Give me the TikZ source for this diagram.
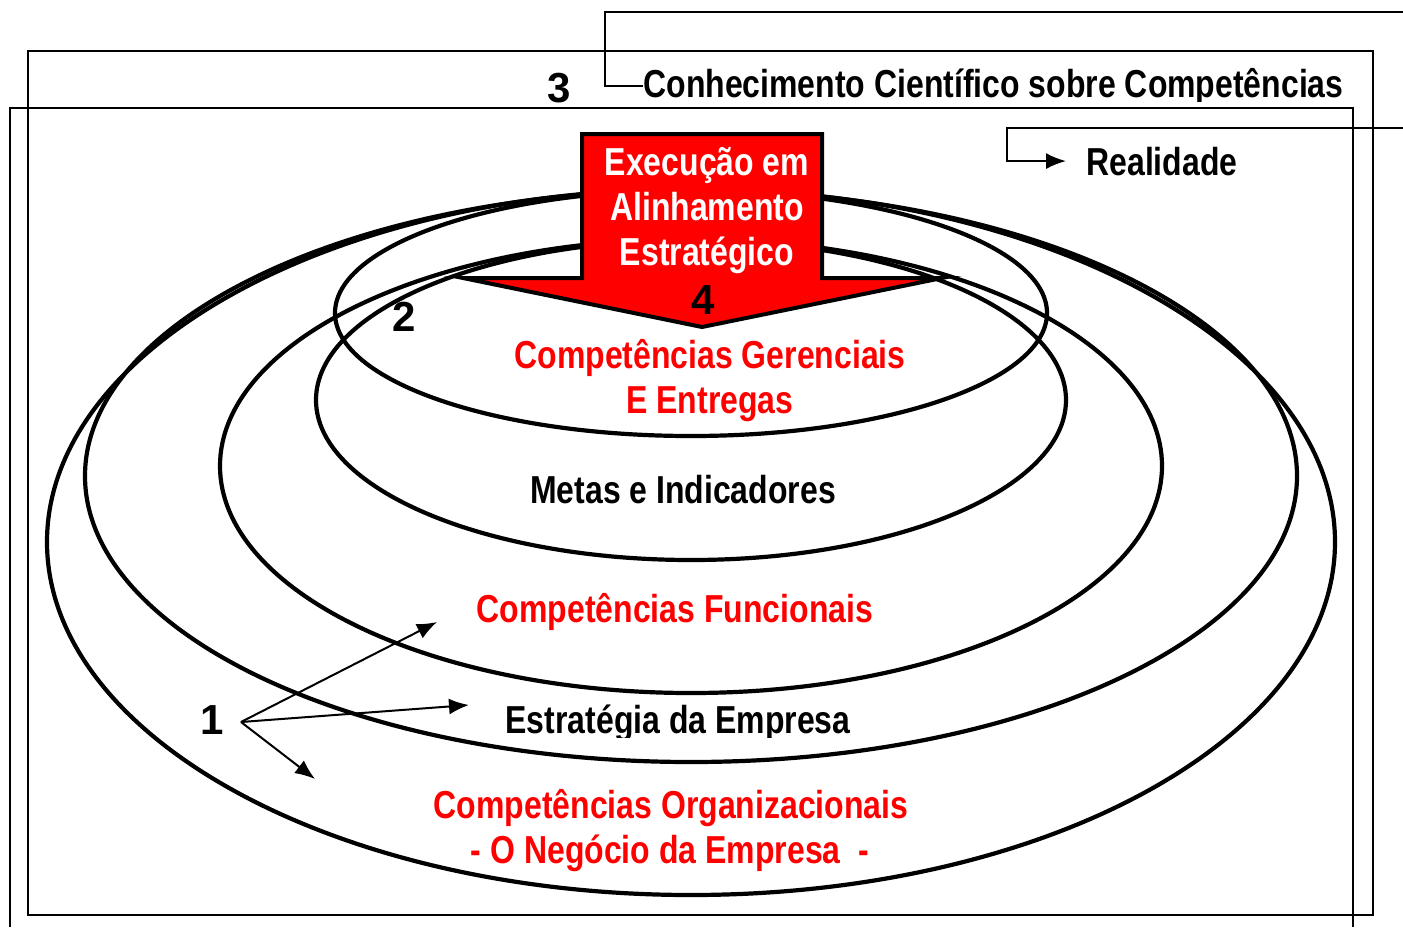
\documentclass[tikz,border=0pt]{standalone}
\usepackage{fontspec}
\setmainfont{Liberation Sans}
\newfontfamily\narrowfont[FakeStretch=0.82]{Liberation Sans}
\usepackage{tikz}
\usetikzlibrary{arrows.meta}

\tikzset{
  ring/.style={draw, line width=2.1pt},
  framebox/.style={draw, line width=1pt},
  lbl/.style={font=\narrowfont\bfseries\fontsize{19.5}{23}\selectfont, inner sep=0pt},
  num/.style={font=\bfseries\fontsize{21}{24}\selectfont, inner sep=0pt},
  pointer/.style={line width=1pt, -{Latex[length=10pt,width=8pt]}},
}

\begin{document}
\begin{tikzpicture}[x=0.5pt, y=-0.5pt]
\useasboundingbox (0,0) rectangle (1403,927);

% two frames
\draw[framebox] (28,51) rectangle (1373,915);
\draw[framebox] (10,927) -- (10,108) -- (1353,108) -- (1353,927);

% rings
\draw[ring] (691,542) ellipse (644 and 353);
\draw[ring] (691,476) ellipse (606 and 286);
\draw[ring] (691,466) ellipse (471 and 227);
\draw[ring] (691,400) ellipse (375 and 160);
\draw[ring] (691,313) ellipse (356 and 123);

% red arrow
\draw[line width=2pt, fill=red, line join=miter] (582,134) -- (822,134) -- (822,278) -- (942,278)
  -- (702,327) -- (463,278) -- (582,278) -- cycle;
\node[lbl, white, anchor=base] (exec1) at (707,175) {Execução em};
\node[lbl, white, anchor=base] (exec2) at (707,220) {Alinhamento};
\node[lbl, white, anchor=base] (exec3) at (707,265) {Estratégico};

% labels in the rings
\node[lbl, red, anchor=base] (gerenc) at (710,368) {Competências Gerenciais};
\node[lbl, red, anchor=base] (entregas) at (710,413) {E Entregas};
\node[lbl, anchor=base] (metas) at (683,503) {Metas e Indicadores};
\node[lbl, red, anchor=base] (funcion) at (675,622) {Competências Funcionais};
\begin{scope}
  \clip (0,0) rectangle (1403,737);
  \node[lbl, anchor=base] (estrat) at (678,733) {Estratégia da Empresa};
\end{scope}
\node[lbl, red, anchor=base] (organiz) at (671,818) {Competências Organizacionais};
\node[lbl, red, anchor=base] (negocio) at (670,863) {- O Negócio da Empresa\ \ -};

% numbers
\node[num] (n1) at (212,720) {1};
\node[num] (n2) at (404,317) {2};
\node[num] (n3) at (559,88) {3};
\node[num] (n4) at (703,300) {4};

% top connectors
\begin{scope}
  \clip (0,0) rectangle (1403,101);
  \node[lbl, anchor=base west] (sci) at (643,97) {Conhecimento Científico sobre Competências};
\end{scope}
\coordinate (sciSrc) at (1403,12);
\draw[line width=1pt] (sciSrc) -- (605,12) |- (sci.west);

\node[lbl, anchor=base west] (real) at (1086,175) {Realidade};
\coordinate (realSrc) at (1403,128);
\draw[pointer] (realSrc) -- (1007,128) |- ([xshift=-10pt]real.west);

% arrows from 1
\coordinate (fork) at (241,722);
\coordinate (tipA) at (437,622);
\coordinate (tipB) at (469,705);
\coordinate (tipC) at (315,779);
\draw[pointer] (fork) -- (tipA);
\draw[pointer] (fork) -- (tipB);
\draw[pointer] (fork) -- (tipC);
\end{tikzpicture}
\end{document}
